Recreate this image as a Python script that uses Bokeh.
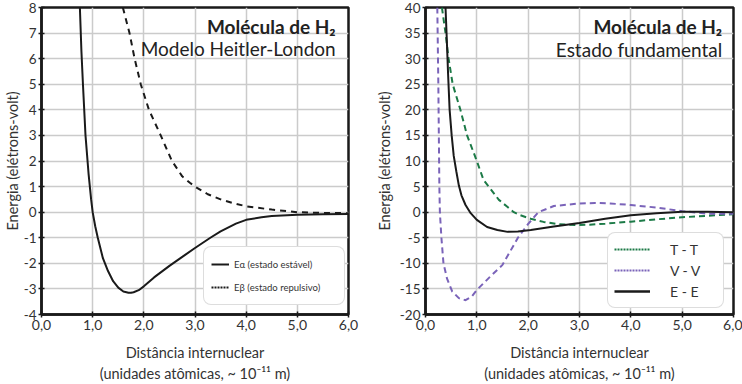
import math
from bokeh.plotting import figure
from bokeh.models import Label, Legend, LegendItem, FixedTicker, CustomJSTickFormatter
from bokeh.layouts import row
from bokeh.embed import file_html
from bokeh.resources import INLINE

FONT = "Lato"

# ---- Left chart data: Heitler-London model ----
r_alpha = [0.75, 0.78, 0.81, 0.86, 0.92, 0.97, 1.0, 1.05, 1.1, 1.2, 1.3, 1.4, 1.5, 1.6, 1.7, 1.75, 1.8, 1.9, 2.0, 2.2, 2.5, 2.8, 3.0, 3.3, 3.5, 3.8, 4.0, 4.3, 4.5, 5.0, 5.5, 6.0]
e_alpha = [8.0, 6.3, 5.0, 3.0, 1.5, 0.5, 0.0, -0.55, -1.0, -1.8, -2.3, -2.7, -2.95, -3.1, -3.15, -3.15, -3.13, -3.05, -2.9, -2.55, -2.1, -1.68, -1.4, -1.0, -0.75, -0.45, -0.3, -0.2, -0.15, -0.1, -0.08, -0.07]
r_beta = [1.59, 1.72, 1.82, 1.94, 2.1, 2.33, 2.55, 2.75, 2.9, 3.0, 3.25, 3.5, 3.75, 4.0, 4.5, 5.0, 5.5, 6.0]
e_beta = [8.0, 7.0, 6.0, 5.0, 4.0, 3.0, 2.0, 1.4, 1.15, 1.0, 0.7, 0.5, 0.35, 0.23, 0.1, 0.0, -0.03, -0.04]

# ---- Right chart data: ground state components ----
r_tt = [0.32, 0.39, 0.45, 0.53, 0.68, 0.81, 1.0, 1.13, 1.27, 1.43, 1.6, 1.72, 1.85, 2.05, 2.3, 2.6, 2.9, 3.2, 3.5, 4.0, 4.5, 5.0, 5.5, 6.0]
e_tt = [40.0, 35.0, 30.0, 25.0, 20.0, 15.0, 10.0, 6.3, 4.5, 2.4, 1.0, 0.0, -0.6, -1.3, -1.9, -2.35, -2.5, -2.45, -2.25, -1.85, -1.4, -1.0, -0.7, -0.4]
r_vv = [0.23, 0.25, 0.27, 0.28, 0.31, 0.35, 0.42, 0.52, 0.65, 0.78, 0.9, 1.0, 1.25, 1.5, 1.8, 2.0, 2.2, 2.5, 3.0, 3.3, 3.6, 4.0, 4.5, 5.0, 5.5, 6.0]
e_vv = [40.0, 25.0, 5.0, 0.0, -5.0, -10.0, -13.0, -15.5, -16.8, -17.2, -16.5, -15.2, -12.7, -10.3, -5.0, -2.3, 0.0, 1.2, 1.7, 1.8, 1.7, 1.4, 0.9, 0.2, -0.3, -0.3]
r_ee = [0.39, 0.41, 0.44, 0.47, 0.51, 0.55, 0.6, 0.65, 0.7, 0.78, 0.88, 1.0, 1.2, 1.4, 1.6, 1.8, 2.05, 2.5, 3.0, 3.5, 4.0, 4.5, 5.0, 5.5, 6.0]
e_ee = [40.0, 35.0, 27.0, 20.0, 15.0, 11.0, 8.0, 5.2, 3.3, 1.4, -0.2, -1.5, -2.9, -3.5, -3.85, -3.8, -3.5, -2.8, -2.1, -1.3, -0.6, -0.2, 0.06, 0.1, 0.0]

x_ticks = [0, 1, 2, 3, 4, 5, 6]
y_ticks_left = list(range(-4, 9))
y_ticks_right = list(range(-20, 41, 5))

X_TITLE = "Distância internuclear\n(unidades atômicas, ~ 10⁻¹¹ m)"
Y_TITLE = "Energia (elétrons-volt)"

GREEN = "#1c7a47"
PURPLE = "#7a63b9"
GRID = "#cbcbcb"
TXT = "#333333"
INK = "#1a1a1a"


def base_fig(width, bl, br, yr, yticks, ylab_standoff):
    p = figure(width=width, height=384, x_range=(0, 6), y_range=yr,
               output_backend="svg", toolbar_location=None)
    p.min_border = 0
    p.min_border_left = bl
    p.min_border_right = br
    p.min_border_top = 7
    p.min_border_bottom = 68
    p.outline_line_color = INK
    p.outline_line_width = 2.5
    p.background_fill_color = "white"
    p.border_fill_color = "white"
    p.xaxis.ticker = FixedTicker(ticks=x_ticks)
    p.yaxis.ticker = FixedTicker(ticks=yticks)
    p.xaxis.formatter = CustomJSTickFormatter(code="return tick.toFixed(1).replace('.', ',');")
    p.yaxis.formatter = CustomJSTickFormatter(code="return tick.toFixed(0);")
    for ax in (p.xaxis, p.yaxis):
        ax.axis_line_width = 2.5
        ax.axis_line_color = INK
        ax.major_tick_line_color = INK
        ax.major_tick_line_width = 1.5
        ax.major_tick_in = 3
        ax.major_tick_out = 3
        ax.minor_tick_line_color = None
        ax.major_label_text_font = FONT
        ax.major_label_text_font_size = "14px"
        ax.major_label_text_color = TXT
        ax.major_label_standoff = 2
        ax.axis_label_text_font = FONT
        ax.axis_label_text_font_size = "14.5px"
        ax.axis_label_text_font_style = "normal"
        ax.axis_label_text_color = TXT
    p.yaxis.major_label_text_font_size = "13.5px"
    p.xaxis.axis_label = X_TITLE
    p.xaxis.axis_label_standoff = 11
    p.xaxis.axis_label_text_line_height = 1.25
    p.yaxis.axis_label = Y_TITLE
    p.yaxis.axis_label_text_font_size = "14.5px"
    p.yaxis.axis_label_text_line_height = 1.0
    p.yaxis.axis_label_standoff = ylab_standoff
    p.xgrid.grid_line_color = GRID
    p.ygrid.grid_line_color = GRID
    p.xgrid.grid_line_width = 1.5
    p.ygrid.grid_line_width = 1.5
    return p


# ---- Left figure ----
p1 = base_fig(370, 38, 22, (-4, 8), y_ticks_left, 0)
p1.line(r_alpha, e_alpha, line_color=INK, line_width=2)
p1.line(r_beta, e_beta, line_color=INK, line_width=2, line_dash="6 5")
leg_a = p1.line(r_alpha, e_alpha, line_color=INK, line_width=2, visible=False)
leg_b = p1.line(r_beta, e_beta, line_color=INK, line_width=2, line_dash="2 1", visible=False)
lg1 = Legend(items=[LegendItem(label="Eα (estado estável)", renderers=[leg_a]),
                    LegendItem(label="Eβ (estado repulsivo)", renderers=[leg_b])],
             location=(162, 9), margin=0, padding=7, spacing=3,
             label_height=20, glyph_height=20, glyph_width=18, label_standoff=5,
             label_width=103,
             label_text_font=FONT, label_text_font_size="9.5px", label_text_color=TXT,
             border_line_color="#bbbbbb", border_line_width=1.2,
             background_fill_color="white", background_fill_alpha=1.0)
try:
    lg1.border_radius = 8
except Exception:
    pass
p1.add_layout(lg1)
p1.add_layout(Label(x=5.75, y=7.26, text="Molécula de H₂", text_align="right", text_baseline="alphabetic",
                    text_font=FONT, text_font_style="bold", text_font_size="19px", text_color="#222222"))
p1.add_layout(Label(x=5.75, y=6.4, text="Modelo Heitler-London", text_align="right", text_baseline="alphabetic",
                    text_font=FONT, text_font_size="19px", text_color="#222222"))

# ---- Right figure ----
p2 = base_fig(372, 55, 9, (-20, 40), y_ticks_right, 4)
p2.line(r_tt, e_tt, line_color=GREEN, line_width=2, line_dash="6 4")
p2.line(r_vv, e_vv, line_color=PURPLE, line_width=2, line_dash="6 4")
p2.line(r_ee, e_ee, line_color=INK, line_width=2)
leg_t = p2.line(r_tt, e_tt, line_color=GREEN, line_width=2, line_dash="2 1", visible=False)
leg_v = p2.line(r_vv, e_vv, line_color=PURPLE, line_width=2, line_dash="2 1", visible=False)
leg_e = p2.line(r_ee, e_ee, line_color=INK, line_width=2.5, visible=False)
lg2 = Legend(items=[LegendItem(label="T - T", renderers=[leg_t]),
                    LegendItem(label="V - V", renderers=[leg_v]),
                    LegendItem(label="E - E", renderers=[leg_e])],
             location=(182, 6), margin=0, padding=6, spacing=1,
             label_height=20, glyph_height=20, glyph_width=36, label_standoff=20,
             label_width=47,
             label_text_font=FONT, label_text_font_size="14px", label_text_color=TXT,
             border_line_color="#bbbbbb", border_line_width=1.2,
             background_fill_color="white", background_fill_alpha=1.0)
try:
    lg2.border_radius = 8
except Exception:
    pass
p2.add_layout(lg2)
p2.add_layout(Label(x=5.78, y=36.3, text="Molécula de H₂", text_align="right", text_baseline="alphabetic",
                    text_font=FONT, text_font_style="bold", text_font_size="19px", text_color="#222222"))
p2.add_layout(Label(x=5.78, y=31.76, text="Estado fundamental", text_align="right", text_baseline="alphabetic",
                    text_font=FONT, text_font_size="19px", text_color="#222222"))

layout = row(p1, p2)
open("out.html", "w").write(file_html(layout, INLINE))
